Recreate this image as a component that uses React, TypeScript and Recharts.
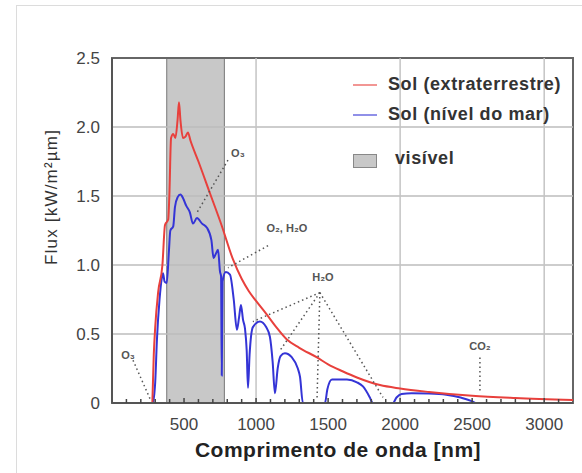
import React from 'react';
import {
  Legend,
  Line,
  LineChart,
  ReferenceArea,
  ReferenceDot,
  ReferenceLine,
  XAxis,
  YAxis,
} from 'recharts';

// [wavelength nm, flux kW/m²µm]
const extraterrestrial: [number, number][] = [
  [280, 0], [290, 0.35], [300, 0.55], [320, 0.8], [350, 1.0], [368, 1.29],
  [390, 1.33], [398, 1.5], [410, 1.92], [425, 1.95], [440, 1.92], [455, 2.05],
  [465, 2.18], [475, 2.05], [493, 1.92], [510, 1.93], [527, 1.96], [545, 1.9],
  [600, 1.75], [680, 1.52], [760, 1.29], [840, 1.04], [900, 0.9], [950, 0.81],
  [1000, 0.74], [1075, 0.64], [1140, 0.55], [1214, 0.46], [1300, 0.4],
  [1423, 0.33], [1500, 0.28], [1600, 0.23], [1700, 0.185], [1860, 0.13],
  [2000, 0.105], [2200, 0.08], [2500, 0.052], [2800, 0.036], [3200, 0.022],
];

const seaLevel: [number, number][] = [
  [285, 0], [300, 0.15], [312, 0.46], [330, 0.75], [345, 0.9], [354, 0.94],
  [365, 0.88], [380, 0.87], [395, 1.1], [405, 1.25], [425, 1.28], [437, 1.42],
  [455, 1.49], [475, 1.51], [495, 1.48], [515, 1.43], [541, 1.38], [562, 1.3],
  [590, 1.34], [625, 1.3], [659, 1.27], [690, 1.18], [705, 1.05], [720, 1.08],
  [736, 1.11], [750, 0.95], [757, 0.92], [762, 0.2], [767, 0.88], [790, 0.95],
  [819, 0.93], [845, 0.75], [867, 0.53], [882, 0.62], [895, 0.71], [910, 0.6],
  [923, 0.54], [935, 0.38], [944, 0.11], [955, 0.35], [978, 0.55], [1027, 0.59],
  [1070, 0.55], [1096, 0.48], [1115, 0.3], [1131, 0.07], [1150, 0.25],
  [1170, 0.34], [1200, 0.36], [1249, 0.33], [1290, 0.25], [1305, 0.19],
  [1325, 0], [1478, 0], [1495, 0.1], [1527, 0.17], [1631, 0.17], [1700, 0.15],
  [1742, 0.12], [1790, 0.04], [1810, 0], [1950, 0], [1975, 0.04], [2010, 0.065],
  [2080, 0.07], [2200, 0.068], [2320, 0.06], [2420, 0.04], [2500, 0.012],
  [2530, 0], [3200, 0],
];

const visibleBand: [number, number] = [380, 780];

const xTicks = [
  100, 200, 300, 400, 500, 600, 700, 800, 900, 1000, 1100, 1200, 1300, 1400,
  1500, 1600, 1700, 1800, 1900, 2000, 2100, 2200, 2300, 2400, 2500, 2600, 2700,
  2800, 2900, 3000, 3100,
];
const xLabelTicks = [500, 1000, 1500, 2000, 2500, 3000];
const yTicks = [0, 0.5, 1, 1.5, 2, 2.5];
const xGrid = [1000, 2000, 3000];
const yGrid = [0.5, 1, 1.5, 2];

// absorption labels: text position + dotted leader lines [x1, y1, x2, y2]
const absorption: { text: string; at: [number, number]; lines: [number, number, number, number][] }[] = [
  { text: 'O₃', at: [874, 1.81], lines: [[805, 1.76, 590, 1.38]] },
  { text: 'O₂, H₂O', at: [1214, 1.27], lines: [[1083, 1.14, 805, 0.98]] },
  {
    text: 'H₂O',
    at: [1464, 0.91],
    lines: [
      [1443, 0.8, 978, 0.59],
      [1443, 0.8, 1166, 0.38],
      [1443, 0.8, 1423, 0.02],
      [1443, 0.8, 1881, 0.04],
    ],
  },
  { text: 'O₃', at: [111, 0.35], lines: [[146, 0.31, 264, 0.03]] },
  { text: 'CO₂', at: [2554, 0.41], lines: [[2554, 0.33, 2554, 0.09]] },
];

const RED = '#e8403c';
const BLUE = '#3434d6';
const BAND = '#c8c8c8';
const FONT = '"Liberation Sans", Arial, sans-serif';

const toRows = (pts: [number, number][]) => pts.map(([x, y]) => ({ x, y }));

const XTick = (props: any) => {
  const { x, y, payload } = props;
  const major = xLabelTicks.includes(payload.value);
  return (
    <g>
      <line x1={x} x2={x} y1={y} y2={y - (major ? 5 : 4)} stroke="#444" strokeWidth={1.5} />
      {major && (
        <text x={x} y={y + 27} textAnchor="middle" fontSize={17} fill="#444" fontFamily={FONT}>
          {payload.value}
        </text>
      )}
    </g>
  );
};

const renderLegend = () => (
  <div style={{ position: 'relative', width: 230, height: 100, fontFamily: FONT }}>
    <div style={{ position: 'absolute', left: 3, top: 12, width: 24, height: 2, background: RED, opacity: 0.55 }} />
    <div style={{ position: 'absolute', left: 38, top: 2, fontSize: 18, fontWeight: 'bold', color: '#333', letterSpacing: 0.6, whiteSpace: 'nowrap' }}>
      Sol (extraterrestre)
    </div>
    <div style={{ position: 'absolute', left: 3, top: 42, width: 24, height: 2, background: BLUE, opacity: 0.55 }} />
    <div style={{ position: 'absolute', left: 38, top: 32, fontSize: 18, fontWeight: 'bold', color: '#333', letterSpacing: 0.6, whiteSpace: 'nowrap' }}>
      Sol (nível do mar)
    </div>
    <div style={{ position: 'absolute', left: 3, top: 82, width: 22, height: 12, background: BAND, border: '1px solid #888' }} />
    <div style={{ position: 'absolute', left: 45, top: 76, fontSize: 18, fontWeight: 'bold', color: '#333', letterSpacing: 0.6 }}>
      visível
    </div>
  </div>
);

export default function App() {
  return (
    <div style={{ position: 'absolute', left: 0, top: 0, width: 582, height: 473, background: '#fff', overflow: 'hidden', fontFamily: FONT }}>
      <div style={{ position: 'absolute', left: 16, top: 5, width: 600, height: 500, border: '1px solid #dcdcdc' }} />
      <LineChart width={582} height={473} margin={{ top: 58, right: 9, bottom: 0, left: 52 }}>
        <XAxis
          type="number"
          dataKey="x"
          domain={[0, 3200]}
          ticks={xTicks}
          interval={0}
          allowDataOverflow
          height={70}
          tickSize={0}
          tickMargin={0}
          tickLine={false}
          tick={XTick}
          axisLine={{ stroke: '#555', strokeWidth: 2 }}
        />
        <YAxis
          type="number"
          domain={[0, 2.5]}
          ticks={yTicks}
          width={60}
          tickSize={0}
          tickMargin={12}
          tickLine={false}
          tickFormatter={(v: number) => (v === 0 ? '0' : v.toFixed(1))}
          tick={{ fontSize: 17, fill: '#444', fontFamily: FONT }}
          axisLine={{ stroke: '#555', strokeWidth: 2 }}
        />
        <ReferenceArea
          x1={visibleBand[0]}
          x2={visibleBand[1]}
          y1={0}
          y2={2.5}
          fill={BAND}
          fillOpacity={1}
          stroke="#777"
          strokeWidth={1}
        />
        {yGrid.map((v) => (
          <ReferenceLine key={'gy' + v} y={v} stroke="#bdbdbd" strokeWidth={1.5} />
        ))}
        {xGrid.map((v) => (
          <ReferenceLine key={'gx' + v} x={v} stroke="#c4c4c4" strokeWidth={1.5} />
        ))}
        <Line
          data={toRows(seaLevel)}
          dataKey="y"
          type="monotone"
          stroke={BLUE}
          strokeWidth={2}
          dot={false}
          isAnimationActive={false}
          name="Sol (nível do mar)"
        />
        <Line
          data={toRows(extraterrestrial)}
          dataKey="y"
          type="monotone"
          stroke={RED}
          strokeWidth={2}
          dot={false}
          isAnimationActive={false}
          name="Sol (extraterrestre)"
        />
        {absorption.map((a, i) =>
          a.lines.map(([x1, y1, x2, y2], j) => (
            <ReferenceLine
              key={`al${i}-${j}`}
              segment={[{ x: x1, y: y1 }, { x: x2, y: y2 }]}
              stroke="#555"
              strokeWidth={1.5}
              strokeDasharray="1.5 3"
            />
          )),
        )}
        {absorption.map((a, i) => (
          <ReferenceDot
            key={'at' + i}
            x={a.at[0]}
            y={a.at[1]}
            r={0}
            stroke="none"
            fill="none"
            label={{ value: a.text, position: 'center', fontSize: 11, fontWeight: 'bold', fill: '#555', fontFamily: FONT }}
          />
        ))}
        <ReferenceArea x1={0} x2={3200} y1={0} y2={2.5} fill="none" stroke="#666" strokeWidth={2} />
        <Legend
          layout="vertical"
          align="center"
          verticalAlign="middle"
          content={renderLegend}
          wrapperStyle={{ left: 350, top: 72, width: 230 }}
        />
      </LineChart>
      <div
        style={{
          position: 'absolute',
          left: 52,
          top: 197,
          transform: 'translate(-50%, -50%) rotate(-90deg)',
          fontSize: 17,
          letterSpacing: 1.2,
          color: '#333',
          whiteSpace: 'nowrap',
        }}
      >
        Flux [kW/m²µm]
      </div>
      <div
        style={{
          position: 'absolute',
          left: 338,
          top: 450,
          transform: 'translate(-50%, -50%)',
          fontSize: 21,
          fontWeight: 'bold',
          letterSpacing: 0.5,
          color: '#222',
          whiteSpace: 'nowrap',
        }}
      >
        Comprimento de onda [nm]
      </div>
    </div>
  );
}
